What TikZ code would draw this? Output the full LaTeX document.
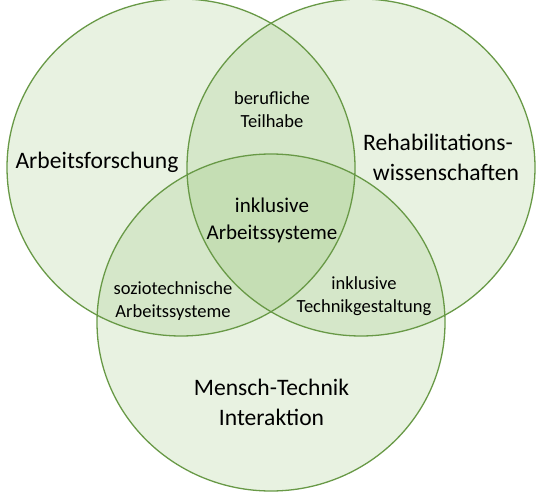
\documentclass[tikz,border=0pt]{standalone}
\usepackage{fontspec}
\setmainfont{Carlito}
\usepackage{tikz}

\definecolor{setgreen}{RGB}{112,173,71}
\definecolor{rimgreen}{RGB}{104,153,70}

\begin{document}
\begin{tikzpicture}[x=1pt,y=-1pt,
        field/.style={fill=setgreen,fill opacity=0.16},
        rim/.style={draw=rimgreen,line width=1.3pt},
        big/.style={align=center,inner sep=0pt,font=\fontsize{23.6}{30}\selectfont},
        mid/.style={align=center,inner sep=0pt,font=\fontsize{21}{27}\selectfont},
        small/.style={align=center,inner sep=0pt,font=\fontsize{18.5}{23}\selectfont}]
        \useasboundingbox (0,0) rectangle (541,492);

        % the three sets
        \fill[field] (181,167.5) ellipse [x radius=174,y radius=168.5];
        \fill[field] (361,167.5) ellipse [x radius=174,y radius=168.5];
        \fill[field] (271,322.5) ellipse [x radius=174,y radius=168.5];
        \draw[rim] (181,167.5) ellipse [x radius=174,y radius=168.5];
        \draw[rim] (361,167.5) ellipse [x radius=174,y radius=168.5];
        \draw[rim] (271,322.5) ellipse [x radius=174,y radius=168.5];

        % labels
        \node[big] (arbeit) at (97,162) {Arbeitsforschung};
        \node[big] (reha) at (446,157) {Rehabilitations-\hspace*{16pt}\\wissenschaften};
        \node[big] (mensch) at (271.5,402) {Mensch-Technik\\Interaktion};
        \node[small] (teilhabe) at (272,110) {berufliche\\Teilhabe};
        \node[small] (sozio) at (173,301) {soziotechnische\\Arbeitssysteme};
        \node[small] (technik) at (364,296) {inklusive\\Technikgestaltung};
        \node[mid] (inklusiv) at (272,220) {inklusive\\Arbeitssysteme};

\end{tikzpicture}
\end{document}
